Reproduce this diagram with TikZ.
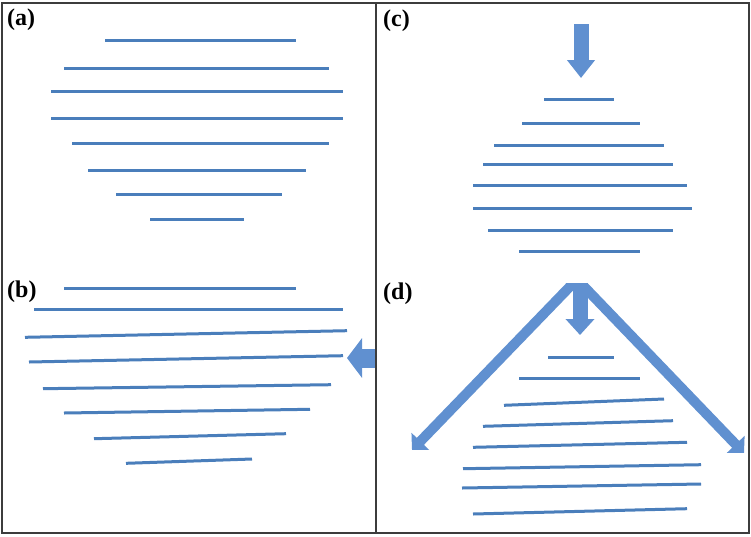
\documentclass[tikz,border=0pt]{standalone}
\usepackage{fontspec}
\newfontfamily\panelfont{Liberation Serif}
\usetikzlibrary{arrows.meta}
\definecolor{lineblue}{RGB}{74,126,187}
\definecolor{arrowblue}{RGB}{96,144,208}
\definecolor{framegray}{RGB}{60,60,60}
\begin{document}
\begin{tikzpicture}[x=1pt,y=-1pt,
  stripe/.style={lineblue, line width=3pt},
  fatarrow/.style={arrowblue, line width=#1},
  panellabel/.style={inner sep=0pt, anchor=base west, font=\panelfont\bfseries\fontsize{24}{28}\selectfont},
  framestyle/.style={framegray, line width=2pt}]
\useasboundingbox (0,0) rectangle (751,536);
\fill[white] (0,0) rectangle (751,536);

% ---------- panel (a)
\draw[stripe] (105,40.7) -- (296,40.7);
\draw[stripe] (64,68.7) -- (329,68.7);
\draw[stripe] (51,91.7) -- (343,91.7);
\draw[stripe] (51,118.3) -- (343,118.3);
\draw[stripe] (72,143.3) -- (329,143.3);
\draw[stripe] (88,170.7) -- (306,170.7);
\draw[stripe] (116,194.7) -- (282,194.7);
\draw[stripe] (150,219.3) -- (244,219.3);

% ---------- panel (b)
\draw[stripe] (64,288) -- (296,288);
\draw[stripe] (34,309.3) -- (343,309.3);
\draw[stripe] (25,337.3) -- (347,330.7);
\draw[stripe] (29,362) -- (343,355.7);
\draw[stripe] (43,388.7) -- (331,384.7);
\draw[stripe] (64,413) -- (310,409.3);
\draw[stripe] (94,438.7) -- (286,433.7);
\draw[stripe] (126,463.3) -- (252,459);
\coordinate (bs) at (376,358);
\coordinate (bt) at (347,358);
\draw[fatarrow=19pt, -{Triangle[width=39pt,length=15pt]}] (bs) -- (bt);

% ---------- panel (c)
\coordinate (cs) at (581,24);
\coordinate (ct) at (581,78);
\draw[fatarrow=15pt, -{Triangle[width=27pt,length=18pt]}] (cs) -- (ct);
\draw[stripe] (544,99.3) -- (614,99.3);
\draw[stripe] (522,123.3) -- (640,123.3);
\draw[stripe] (494,145) -- (664,145);
\draw[stripe] (483,164.3) -- (673,164.3);
\draw[stripe] (473,185.7) -- (687,185.7);
\draw[stripe] (473,208.3) -- (692,208.3);
\draw[stripe] (488,230.7) -- (673,230.7);
\draw[stripe] (519,251.3) -- (640,251.3);

% ---------- panel (d)
\coordinate (dl0) at (585,271);
\coordinate (dl1) at (412,450);
\coordinate (dr0) at (569,271);
\coordinate (dr1) at (744,453);
\begin{scope}
  \clip (380,283) rectangle (749,533);
  \draw[fatarrow=10pt, -{Triangle[width=24pt,length=12pt]}] (dl0) -- (dl1);
  \draw[fatarrow=10pt, -{Triangle[width=24pt,length=12pt]}] (dr0) -- (dr1);
\end{scope}
\coordinate (ds) at (580,283);
\coordinate (dt) at (580,335);
\draw[fatarrow=15pt, -{Triangle[width=28pt,length=16pt]}] (ds) -- (dt);
\draw[stripe] (548,357) -- (614,357);
\draw[stripe] (519,378) -- (640,378);
\draw[stripe] (504,405.3) -- (664,399);
\draw[stripe] (483,426.3) -- (673,420.7);
\draw[stripe] (473,447.3) -- (687,442.3);
\draw[stripe] (463,468.7) -- (701,464.7);
\draw[stripe] (462,488) -- (701,484);
\draw[stripe] (473,514) -- (687,508.7);

% ---------- frame
\draw[framestyle] (2,3) rectangle (749,533);
\draw[framestyle] (375.5,3) -- (375.5,533);

% ---------- labels
\node[panellabel] (la) at (7,25.5) {(a)};
\node[panellabel] (lb) at (7,297.5) {(b)};
\node[panellabel] (lc) at (383,26.5) {(c)};
\node[panellabel] (ld) at (383,299.5) {(d)};
\end{tikzpicture}
\end{document}
